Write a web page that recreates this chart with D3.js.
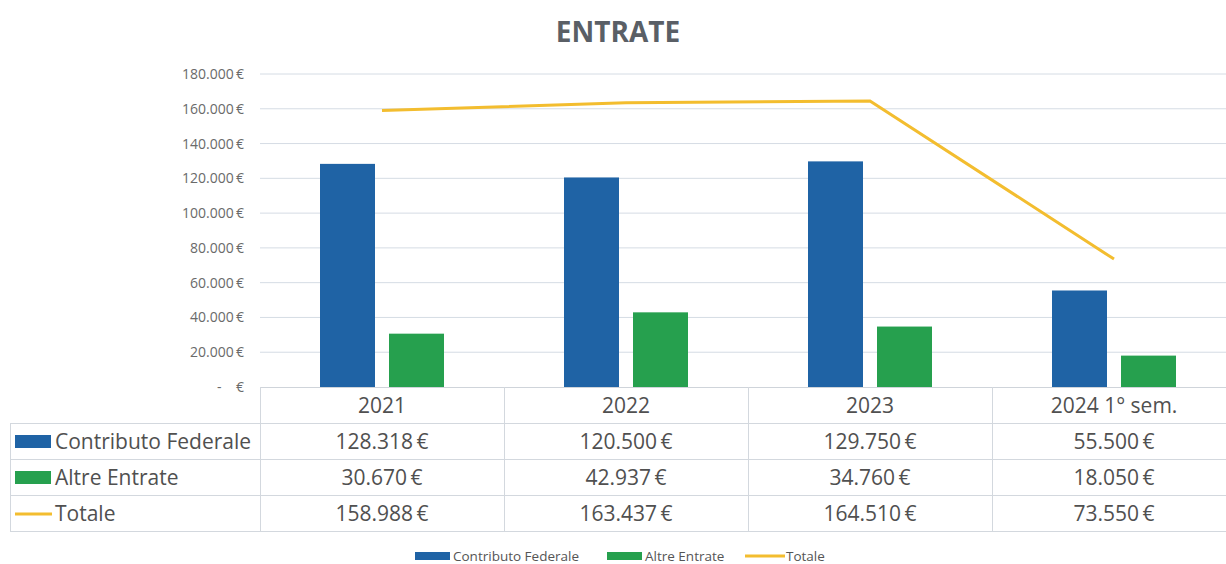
<!DOCTYPE html>
<html><head><meta charset="utf-8">
<script src="https://cdn.jsdelivr.net/npm/d3@7"></script>
<style>body{margin:0;background:#fff}svg{display:block}</style>
</head><body>
<svg id="c" width="1226" height="564"></svg>
<script>
const categories = ["2021", "2022", "2023", "2024 1° sem."];
const contributoFederale = [128318, 120500, 129750, 55500];
const altreEntrate = [30670, 42937, 34760, 18050];
const totale = [158988, 163437, 164510, 73550];
const yTicks = [0, 20000, 40000, 60000, 80000, 100000, 120000, 140000, 160000, 180000];
const seriesNames = ["Contributo Federale", "Altre Entrate", "Totale"];
const colors = ["#1f63a5", "#26a04e", "#f3bd2f"];

const svg = d3.select("#c");
const font = "'Open Sans', 'Liberation Sans', sans-serif";
const txt = "#505050";

const x = d3.scaleBand().domain(categories).range([260, 1236]);
const y = d3.scaleLinear().domain([0, 180000]).range([387, 74]);
const fmt = v => d3.format(",")(v).replace(/,/g, ".") + "\u2009€";

// title
svg.append("text").attr("x", 618).attr("y", 42).attr("text-anchor", "middle")
  .attr("font-family", font).attr("font-weight", "bold").attr("font-size", 28)
  .attr("fill", "#5a5f66").text("ENTRATE");

// gridlines
svg.append("g").selectAll("line").data(yTicks.slice(1)).join("line")
  .attr("x1", 260).attr("x2", 1226).attr("y1", d => y(d)).attr("y2", d => y(d))
  .attr("stroke", "#d5dce4").attr("stroke-width", 1);

// y tick labels
svg.append("g").selectAll("text").data(yTicks).join("text")
  .attr("x", 244).attr("y", d => y(d) + 5).attr("text-anchor", "end")
  .attr("font-family", font).attr("font-size", 14).attr("fill", "#6a6a6a")
  .attr("xml:space", "preserve")
  .text(d => d === 0 ? "-    €" : fmt(d));

// bars
const bw = 55, gap = 14;
svg.append("g").selectAll("rect").data(categories).join("rect")
  .attr("x", d => x(d) + x.bandwidth() / 2 - gap / 2 - bw)
  .attr("y", (d, i) => y(contributoFederale[i]))
  .attr("width", bw).attr("height", (d, i) => y(0) - y(contributoFederale[i]))
  .attr("fill", colors[0]);
svg.append("g").selectAll("rect").data(categories).join("rect")
  .attr("x", d => x(d) + x.bandwidth() / 2 + gap / 2)
  .attr("y", (d, i) => y(altreEntrate[i]))
  .attr("width", bw).attr("height", (d, i) => y(0) - y(altreEntrate[i]))
  .attr("fill", colors[1]);

// line
const line = d3.line().x((d, i) => x(categories[i]) + x.bandwidth() / 2).y(d => y(d));
svg.append("path").datum(totale).attr("d", line).attr("fill", "none")
  .attr("stroke", colors[2]).attr("stroke-width", 3);

// data table
const rowY = [387, 423, 459, 495, 531];
const tb = svg.append("g").attr("stroke", "#d3d8de").attr("stroke-width", 1);
tb.append("line").attr("x1", 260).attr("x2", 1226).attr("y1", 387.5).attr("y2", 387.5).attr("stroke", "#cfd4da");
rowY.slice(1).forEach(r => tb.append("line").attr("x1", 10).attr("x2", 1226).attr("y1", r + 0.5).attr("y2", r + 0.5));
tb.append("line").attr("x1", 10.5).attr("x2", 10.5).attr("y1", 423).attr("y2", 531);
[260].concat(categories.map(c => x(c) + x.bandwidth())).forEach(xx =>
  tb.append("line").attr("x1", xx + 0.5).attr("x2", xx + 0.5).attr("y1", 387).attr("y2", 531));

const tfs = 21;
svg.append("g").selectAll("text").data(categories).join("text")
  .attr("x", d => x(d) + x.bandwidth() / 2).attr("y", 413).attr("text-anchor", "middle")
  .attr("font-family", font).attr("font-size", tfs).attr("fill", txt).text(d => d);

const rows = [contributoFederale, altreEntrate, totale];
rows.forEach((vals, r) => {
  const cy = (rowY[r + 1] + rowY[r + 2]) / 2;
  svg.append("g").selectAll("text").data(vals).join("text")
    .attr("x", (d, i) => x(categories[i]) + x.bandwidth() / 2).attr("y", cy + 7.5)
    .attr("text-anchor", "middle").attr("font-family", font).attr("font-size", tfs)
    .attr("fill", txt).text(d => fmt(d));
  if (r < 2) {
    svg.append("rect").attr("x", 15).attr("y", cy - 6).attr("width", 36).attr("height", 13).attr("fill", colors[r]);
  } else {
    svg.append("line").attr("x1", 15).attr("x2", 52).attr("y1", cy + 1).attr("y2", cy + 1)
      .attr("stroke", colors[2]).attr("stroke-width", 3);
  }
  svg.append("text").attr("x", 55).attr("y", cy + 7.5).attr("font-family", font)
    .attr("font-size", tfs).attr("fill", txt).text(seriesNames[r]);
});

// bottom legend
const lg = svg.append("g").attr("font-family", font).attr("font-size", 13.5).attr("fill", "#555");
const lx = [415, 607, 745];
seriesNames.forEach((n, i) => {
  if (i < 2) lg.append("rect").attr("x", lx[i]).attr("y", 552).attr("width", 35).attr("height", 8).attr("fill", colors[i]);
  else lg.append("line").attr("x1", lx[i]).attr("x2", lx[i] + 40).attr("y1", 556).attr("y2", 556).attr("stroke", colors[2]).attr("stroke-width", 3);
  lg.append("text").attr("x", lx[i] + (i < 2 ? 38 : 41)).attr("y", 560.5).text(n);
});
</script>
</body></html>
